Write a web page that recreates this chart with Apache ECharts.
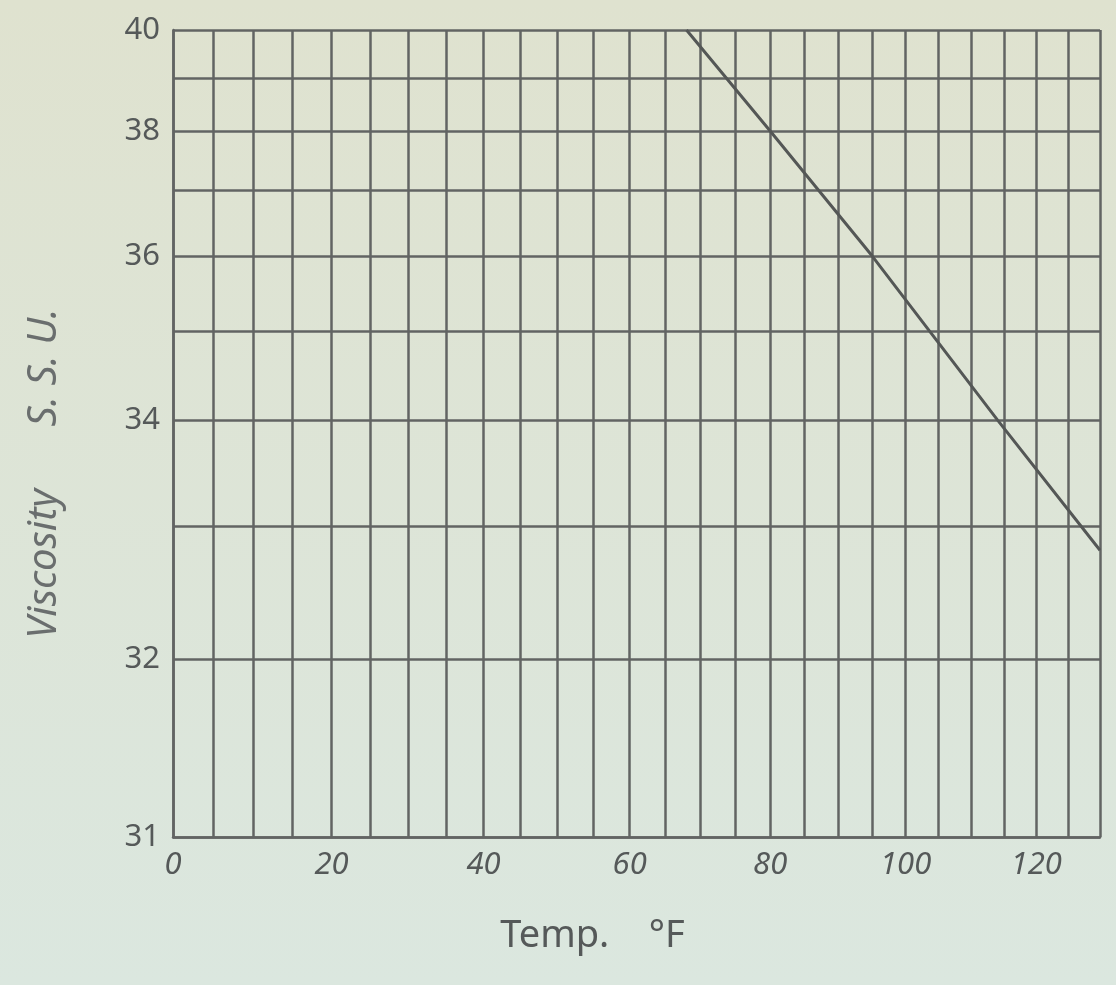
<!DOCTYPE html>
<html><head><meta charset="utf-8">
<script src="https://cdn.jsdelivr.net/npm/echarts@6/dist/echarts.min.js"></script>
<style>html,body{margin:0;padding:0;}#c{width:1116px;height:985px;}</style>
</head><body><div id="c"></div>
<script>
// Temperature gridlines (°F) and labelled ticks
const tempTicks = [0,5,10,15,20,25,30,35,40,45,50,55,60,65,70,75,80,85,90,95,100,105,110,115,120,125,130];
const tempLabels = [0,20,40,60,80,100,120];
// Viscosity gridlines (S.S.U.) and labelled ticks
const viscTicks = [31,32,33,34,35,36,37,38,39,40];
const viscLabels = [31,32,34,36,38,40];
// Curve
const lineTemp = [68, 80, 95, 114, 130];
const lineVisc = [40, 38, 36, 34, 32.8];

// Chart scales: x = log of absolute temperature (°R), y = log(SSU - 28.5)
const TEMP_OFFSET = 460;
const VISC_OFFSET = 28.5;
const fx = t => Math.log10(t + TEMP_OFFSET);
const fy = v => Math.log10(v - VISC_OFFSET);
const ix = u => Math.round(Math.pow(10, u) - TEMP_OFFSET);
const iy = u => Math.round(Math.pow(10, u) + VISC_OFFSET);

const GRID_COLOR = '#626463';
const TEXT_COLOR = '#555959';

const chart = echarts.init(document.getElementById('c'), null, {renderer: 'canvas'});
chart.setOption({
  animation: false,
  backgroundColor: {
    type: 'linear', x: 0, y: 0, x2: 0, y2: 1,
    colorStops: [{offset: 0, color: '#dfe2cf'}, {offset: 1, color: '#dbe7df'}]
  },
  grid: {left: 173, right: 16, top: 30, bottom: 148, containLabel: false},
  xAxis: {
    type: 'value',
    min: fx(tempTicks[0]),
    max: fx(tempTicks[tempTicks.length - 1]),
    name: 'Temp.    °F',
    nameLocation: 'middle',
    nameGap: 80,
    nameTextStyle: {fontFamily: 'Noto Sans', fontSize: 38, color: TEXT_COLOR, padding: [0, 88, 0, 0]},
    axisLine: {show: true, lineStyle: {color: GRID_COLOR, width: 2.5}},
    axisTick: {show: false, customValues: tempTicks.map(fx)},
    axisLabel: {
      customValues: tempLabels.map(fx),
      formatter: v => String(ix(v)),
      margin: 13,
      fontFamily: 'Noto Sans', fontStyle: 'italic', fontSize: 31, color: TEXT_COLOR
    },
    splitLine: {show: true, lineStyle: {color: GRID_COLOR, width: 2.5}}
  },
  yAxis: {
    type: 'value',
    min: fy(viscTicks[0]),
    max: fy(viscTicks[viscTicks.length - 1]),
    name: 'Viscosity      S. S. U.',
    nameLocation: 'middle',
    nameRotate: 90,
    nameGap: 108,
    nameTextStyle: {fontFamily: 'Noto Sans', fontStyle: 'italic', fontSize: 40, color: '#6a6e6e', padding: [0, 80, 0, 0]},
    axisLine: {show: true, lineStyle: {color: GRID_COLOR, width: 2.5}},
    axisTick: {show: false, customValues: viscTicks.map(fy)},
    axisLabel: {
      customValues: viscLabels.map(fy),
      formatter: v => String(iy(v)),
      margin: 13,
      fontFamily: 'Noto Sans', fontSize: 31, color: TEXT_COLOR
    },
    splitLine: {show: true, lineStyle: {color: GRID_COLOR, width: 2.5}}
  },
  series: [{
    type: 'line',
    data: lineTemp.map((t, i) => [fx(t), fy(lineVisc[i])]),
    symbol: 'none',
    lineStyle: {color: '#545756', width: 3},
    z: 5
  }]
});
</script>
</body></html>
